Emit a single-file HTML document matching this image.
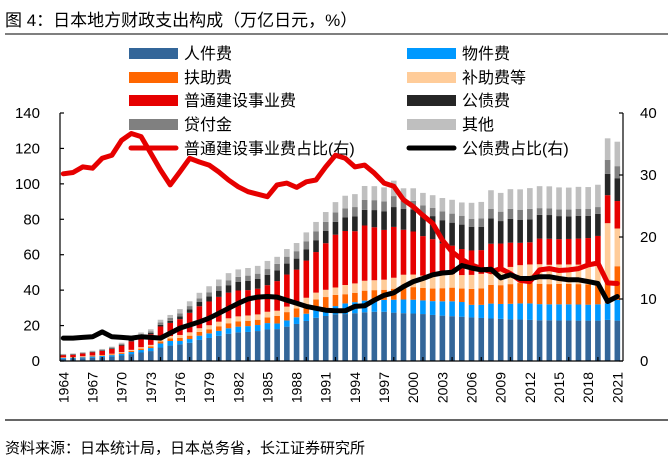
<!DOCTYPE html>
<html><head><meta charset="utf-8"><style>
body{margin:0;background:#fff;}
svg{display:block;font-family:"Liberation Sans","Noto Sans CJK SC",sans-serif;}
</style></head><body>
<svg id="chart" width="670" height="464" viewBox="0 0 670 464">
<text x="5" y="26" font-size="17" fill="#000">图 4：日本地方财政支出构成（万亿日元，%）</text>
<line x1="5" y1="34" x2="668" y2="34" stroke="#555" stroke-width="1.5"/>
<line x1="5" y1="420" x2="668" y2="420" stroke="#333" stroke-width="1.5"/>
<text x="5" y="453" font-size="15" fill="#000">资料来源：日本统计局，日本总务省，长江证券研究所</text>
<g id="legend"></g>
<g id="plot"></g>
</svg>
<script>
const years = [];
for (let y = 1964; y <= 2021; y++) years.push(y);
const personnel = [1.3,1.4,1.6,1.9,2.2,2.5,3.1,3.9,4.8,5.6,7.6,8.7,9.4,10.3,11.9,13.0,14.2,15.4,16.2,16.4,16.9,17.8,18.0,19.4,20.9,22.6,24.4,25.4,26.3,26.5,27.0,27.5,27.8,27.8,27.3,27.0,26.8,26.5,26.0,25.6,25.3,25.0,24.6,24.3,24.0,23.8,23.5,23.4,23.2,23.0,23.0,22.9,22.9,22.8,22.8,22.8,23.2,22.8];
const goods = [0.4,0.4,0.5,0.6,0.6,0.8,0.9,1.2,1.4,1.7,2.3,2.6,1.9,2.1,2.4,2.6,2.8,3.1,3.2,3.3,3.4,3.6,3.2,3.5,3.8,4.1,4.4,4.6,4.7,6.0,6.2,6.6,6.6,6.7,7.3,7.7,7.8,7.7,7.8,8.1,8.4,8.3,7.1,7.4,8.4,8.4,8.8,9.1,9.3,9.1,9.0,9.1,9.1,9.1,9.0,9.2,9.4,11.7];
const assistance = [0.2,0.2,0.3,0.3,0.3,0.4,0.5,0.6,0.8,0.9,1.2,1.4,1.7,1.9,2.1,2.3,2.6,2.8,2.9,3.0,3.0,3.2,4.3,4.7,5.0,5.4,5.9,6.1,6.3,5.2,5.3,5.6,5.6,5.7,6.2,7.0,7.1,7.0,7.1,7.4,7.7,7.6,9.0,9.3,10.6,10.6,11.1,11.5,11.7,11.5,11.4,11.5,11.5,11.5,11.4,11.7,11.3,19.0];
const subsidies = [0.2,0.2,0.3,0.3,0.3,0.4,0.5,0.6,0.8,0.9,1.2,1.4,1.7,1.9,2.1,2.3,2.6,2.8,2.9,3.0,3.0,3.2,2.9,3.1,3.3,3.6,3.9,4.1,4.2,5.2,5.3,5.6,5.6,5.7,6.2,7.0,7.1,7.0,7.1,7.4,7.7,7.6,7.9,8.2,9.3,9.3,9.7,10.1,10.3,11.0,10.9,11.0,11.0,11.0,11.0,11.2,33.9,21.3];
const construction = [1.2,1.3,1.5,1.8,2.3,2.7,3.7,4.8,5.8,6.0,7.2,7.4,8.9,11.0,12.4,13.4,14.0,14.5,14.6,14.3,14.5,15.0,16.7,18.1,18.6,21.0,22.9,26.3,29.8,30.5,29.5,31.2,29.9,28.1,28.7,25.4,24.3,22.3,20.8,17.9,16.0,14.7,13.8,13.4,13.9,14.2,13.7,12.6,12.5,14.5,14.7,14.3,14.4,14.7,15.2,15.7,15.8,15.5];
const debt = [0.2,0.2,0.2,0.2,0.3,0.3,0.4,0.5,0.6,0.7,0.9,1.2,1.6,1.9,2.4,2.9,3.5,4.2,4.8,5.2,5.5,5.9,6.1,6.2,6.2,6.4,6.7,6.9,7.3,7.6,8.3,8.8,9.7,10.4,11.2,11.7,12.5,12.6,13.0,13.1,13.0,13.8,13.4,13.2,14.3,12.7,13.5,12.9,13.0,13.4,13.4,13.0,12.8,12.9,12.6,12.4,12.1,12.9];
const loans = [0.2,0.3,0.3,0.3,0.4,0.5,0.6,0.7,0.9,1.0,1.4,1.6,1.7,1.9,2.1,2.3,2.6,2.8,2.9,3.0,3.0,3.2,3.6,3.9,4.2,4.5,4.9,5.1,5.3,5.2,5.3,5.6,5.6,5.7,6.2,4.7,4.8,4.7,4.7,5.0,5.1,5.0,4.5,4.7,5.3,5.3,5.6,5.8,5.9,3.8,3.8,3.8,3.8,3.8,3.8,3.9,7.9,6.8];
const others = [0.3,0.3,0.3,0.4,0.4,0.5,0.6,0.8,1.0,1.1,1.5,1.7,2.4,2.7,3.1,3.4,3.7,4.0,4.2,4.3,4.4,4.6,4.0,4.3,4.6,5.0,5.4,5.6,5.8,7.1,7.3,7.9,7.9,7.9,8.7,7.0,7.1,7.1,7.1,7.5,7.8,7.5,9.0,9.3,10.6,10.6,11.1,11.5,11.7,12.4,12.4,12.4,12.4,12.5,12.4,12.6,12.1,13.8];
const constructionShare = [30.2,30.4,31.3,31.1,32.7,33.2,35.6,36.7,36.2,33.5,30.8,28.4,30.5,32.7,32.1,31.6,30.5,29.2,28.1,27.3,26.9,26.5,28.4,28.7,28.0,28.9,29.2,31.3,33.2,32.7,31.3,31.6,30.3,28.7,28.2,26.0,24.9,23.5,22.2,19.5,17.6,16.4,15.5,14.9,14.4,14.9,14.1,13.0,12.8,14.7,14.9,14.6,14.7,14.9,15.5,15.8,12.6,12.5];
const debtShare = [3.7,3.7,3.8,3.9,4.7,3.9,3.8,3.7,3.9,3.8,3.7,4.5,5.3,5.8,6.3,6.9,7.7,8.5,9.3,10.0,10.3,10.4,10.3,9.8,9.3,8.8,8.5,8.2,8.1,8.1,8.8,8.9,9.8,10.6,11.0,12.0,12.8,13.3,13.9,14.2,14.3,15.4,15.0,14.7,14.8,13.4,13.9,13.3,13.3,13.6,13.6,13.3,13.1,13.1,12.8,12.5,9.6,10.4];
const leftTicks = [0,20,40,60,80,100,120,140];
const rightTicks = [0,10,20,30,40];

const NS = "http://www.w3.org/2000/svg";
const svg = document.getElementById('chart');
const plot = document.getElementById('plot');
const legend = document.getElementById('legend');
function mk(tag, attrs, parent) {
  const e = document.createElementNS(NS, tag);
  for (const k in attrs) e.setAttribute(k, attrs[k]);
  parent.appendChild(e);
  return e;
}
const X0 = 63.3, STEP = 9.72, Y0 = 361, YTOP = 113;
function xPos(i) { return X0 + i * STEP; }
function yLeft(v) { return Y0 - v / 140 * (Y0 - YTOP); }
function yRight(v) { return Y0 - v / 40 * (Y0 - YTOP); }

const series = [
  {d: personnel, c: '#336699', n: 'personnel-bar'},
  {d: goods, c: '#0099ff', n: 'goods-bar'},
  {d: assistance, c: '#ff6600', n: 'assistance-bar'},
  {d: subsidies, c: '#ffcc99', n: 'subsidies-bar'},
  {d: construction, c: '#e60000', n: 'construction-bar'},
  {d: debt, c: '#262626', n: 'debt-bar'},
  {d: loans, c: '#808080', n: 'loans-bar'},
  {d: others, c: '#bfbfbf', n: 'others-bar'}
];
years.forEach((yr, i) => {
  let acc = 0;
  series.forEach(s => {
    const v = s.d[i];
    const r = mk('rect', {x: xPos(i) - 2.8, y: yLeft(acc + v), width: 5.6, height: Math.max(0, yLeft(acc) - yLeft(acc + v)), fill: s.c}, plot);
    
    
    acc += v;
  });
});
function line(data, color, name) {
  const pts = data.map((v, i) => xPos(i).toFixed(1) + ',' + yRight(v).toFixed(1)).join(' ');
  const p = mk('polyline', {points: pts, fill: 'none', stroke: color, 'stroke-width': 5, 'stroke-linejoin': 'round', 'stroke-linecap': 'round'}, plot);
  
  
}
line(constructionShare, '#e60000', 'construction-share-line');
line(debtShare, '#000000', 'debt-share-line');

// axes
const ax = mk('g', {stroke: '#000', 'stroke-width': 1.2}, plot);


mk('line', {x1: 60, y1: YTOP, x2: 60, y2: Y0}, ax);
mk('line', {x1: 623, y1: YTOP, x2: 623, y2: Y0}, ax);
mk('line', {x1: 60, y1: Y0, x2: 623, y2: Y0}, ax);
leftTicks.forEach(t => {
  mk('line', {x1: 60, y1: yLeft(t), x2: 64, y2: yLeft(t)}, ax);
  const tx = mk('text', {x: 40, y: yLeft(t) + 5, 'font-size': 15, 'text-anchor': 'end', stroke: 'none', fill: '#000'}, plot);
  tx.textContent = t;
  
  
});
rightTicks.forEach(t => {
  mk('line', {x1: 619, y1: yRight(t), x2: 623, y2: yRight(t)}, ax);
  const tx = mk('text', {x: 640, y: yRight(t) + 5, 'font-size': 15, 'text-anchor': 'start', stroke: 'none', fill: '#000'}, plot);
  tx.textContent = t;
  
  
});
years.forEach((yr, i) => {
  if (i % 3 === 1) mk('line', {x1: xPos(i), y1: Y0, x2: xPos(i), y2: Y0 - 4}, ax);
  if (i % 3 === 0 || i === years.length - 1) {
    const tx = mk('text', {x: xPos(i) + 5, y: 372, 'font-size': 14, 'text-anchor': 'end', fill: '#000', transform: 'rotate(-90 ' + (xPos(i) + 5) + ' 372)'}, plot);
    tx.textContent = yr;
    
    
  }
});

// legend
const legItems = [
  ['人件费', '#336699', 'bar', 0, 53], ['物件费', '#0099ff', 'bar', 1, 53],
  ['扶助费', '#ff6600', 'bar', 0, 77], ['补助费等', '#ffcc99', 'bar', 1, 77],
  ['普通建设事业费', '#e60000', 'bar', 0, 100], ['公债费', '#262626', 'bar', 1, 100],
  ['贷付金', '#808080', 'bar', 0, 124], ['其他', '#bfbfbf', 'bar', 1, 124],
  ['普通建设事业费占比(右)', '#e60000', 'line', 0, 148], ['公债费占比(右)', '#000000', 'line', 1, 148]
];
legItems.forEach(it => {
  const g = mk('g', {}, legend);
  
  
  const sx = it[3] === 0 ? 129 : 407;
  if (it[2] === 'bar') mk('rect', {x: sx, y: it[4] - 5, width: 49, height: 11, fill: it[1]}, g);
  else mk('line', {x1: sx + 2, y1: it[4], x2: sx + 47, y2: it[4], stroke: it[1], 'stroke-width': 5, 'stroke-linecap': 'round'}, g);
  const t = mk('text', {x: sx + 55, y: it[4] + 6, 'font-size': 16, fill: '#000'}, g);
  t.textContent = it[0];
});
</script>
</body></html>
